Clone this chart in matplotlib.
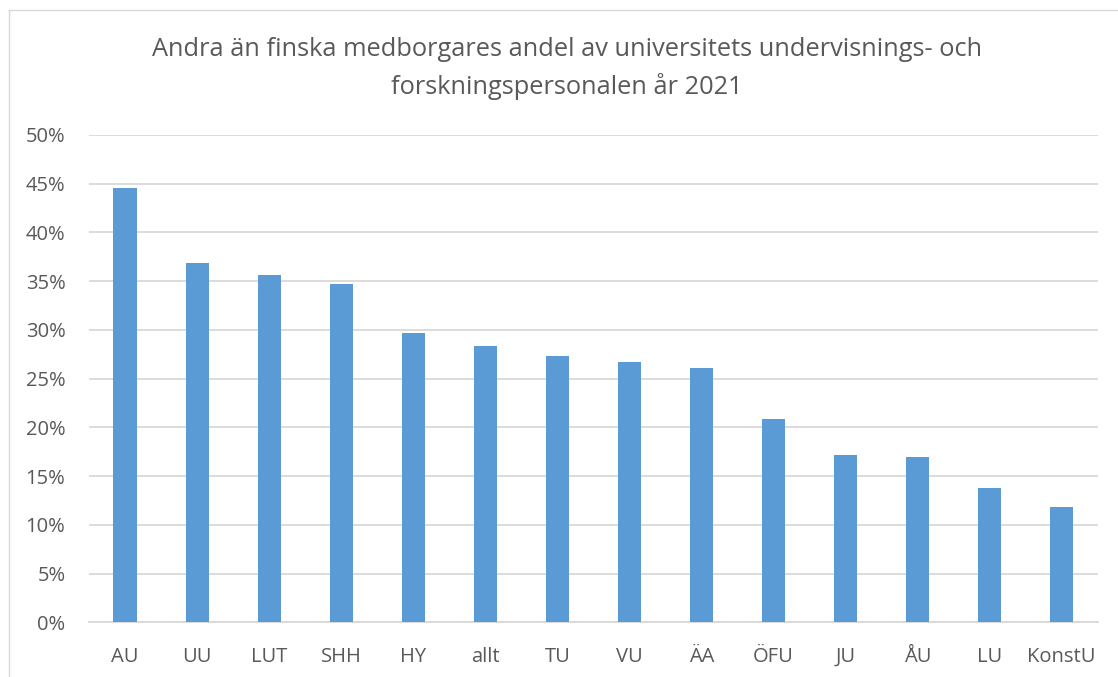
import matplotlib
matplotlib.use('Agg')
import matplotlib.pyplot as plt
from matplotlib.lines import Line2D
from matplotlib.ticker import PercentFormatter

# data
universities = ['AU', 'UU', 'LUT', 'SHH', 'HY', 'allt', 'TU', 'VU', 'ÄA', 'ÖFU', 'JU', 'ÅU', 'LU', 'KonstU']
share = [44.6, 36.9, 35.6, 34.7, 29.7, 28.4, 27.3, 26.7, 26.1, 20.9, 17.2, 17.0, 13.8, 11.8]

title = 'Andra än finska medborgares andel av universitets undervisnings- och\nforskningspersonalen år 2021'

plt.rcParams['font.family'] = ['Open Sans', 'DejaVu Sans']
text_color = '#595959'
grid_color = '#d9d9d9'
bar_color = '#5b9bd5'

W, H = 1118, 677
fig = plt.figure(figsize=(W / 100, H / 100), dpi=100)
ax = fig.add_axes([89 / W, 1 - 622.3 / H, (1097.7 - 89) / W, (622.3 - 135) / H])

x = range(len(universities))
ax.bar(x, [v / 100 for v in share], width=0.32, color=bar_color, zorder=3)

ax.set_xlim(-0.5, len(universities) - 0.5)
ax.set_ylim(0, 0.5)
ax.set_yticks([i * 0.05 for i in range(11)])
ax.yaxis.set_major_formatter(PercentFormatter(1.0, decimals=0))
ax.set_xticks(list(x))
ax.set_xticklabels(universities)

ax.grid(True, axis='y', color=grid_color, linewidth=1.3, zorder=0)
for s in ['top', 'right', 'left']:
    ax.spines[s].set_visible(False)
ax.spines['bottom'].set_color(grid_color)
ax.spines['bottom'].set_linewidth(1.3)
ax.tick_params(axis='both', length=0, colors=text_color, labelsize=14.5)
ax.tick_params(axis='y', pad=17)
ax.tick_params(axis='x', pad=17.5)

fig.text(567 / W, 1 - 68.5 / H, title, ha='center', va='center', fontsize=18.3,
         color=text_color, linespacing=1.55)

# chart frame (cropped on right and bottom)
fig.add_artist(Line2D([8.5 / W, 8.5 / W], [0, 1 - 10 / H], transform=fig.transFigure,
                      color=grid_color, linewidth=1))
fig.add_artist(Line2D([8.5 / W, 1], [1 - 10 / H, 1 - 10 / H], transform=fig.transFigure,
                      color=grid_color, linewidth=1))

fig.savefig('out.png', dpi=100)
